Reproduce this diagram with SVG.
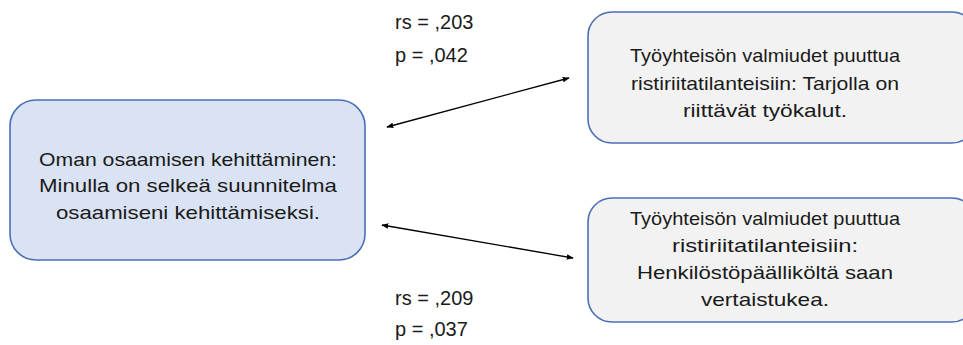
<svg xmlns="http://www.w3.org/2000/svg" width="963" height="345" viewBox="0 0 963 345">
  <style>
    .box { stroke: #4a6fb5; stroke-width: 1.6; }
    .blue { fill: #dae3f3; }
    .grey { fill: #f2f2f2; }
    text { font-family: "Liberation Sans", Arial, sans-serif; fill: #1a1a1a; }
    .lbl { font-size: 18.5px; text-anchor: middle; }
    .stat { font-size: 20px; }
    .conn { stroke: #000; stroke-width: 1.3; fill: none; marker-start: url(#ah); marker-end: url(#ah); }
  </style>
  <defs>
    <marker id="ah" viewBox="0 0 10 10" refX="9" refY="5" markerWidth="7" markerHeight="7" orient="auto-start-reverse" markerUnits="userSpaceOnUse">
      <path d="M0,1 L10,5 L0,9 Z" fill="#000"/>
    </marker>
  </defs>

  <rect width="963" height="345" fill="#fff"/>

  <g id="node-oma">
    <rect class="box blue" x="10" y="100" width="355" height="160" rx="26"/>
    <text class="lbl" x="188" y="166" textLength="298" lengthAdjust="spacingAndGlyphs">Oman osaamisen kehittäminen:</text>
    <text class="lbl" x="188" y="192" textLength="298" lengthAdjust="spacingAndGlyphs">Minulla on selkeä suunnitelma</text>
    <text class="lbl" x="188" y="219" textLength="264" lengthAdjust="spacingAndGlyphs">osaamiseni kehittämiseksi.</text>
  </g>

  <g id="node-tyokalut">
    <rect class="box grey" x="588" y="12" width="388" height="131" rx="24"/>
    <text class="lbl" x="765" y="62" textLength="270" lengthAdjust="spacingAndGlyphs">Työyhteisön valmiudet puuttua</text>
    <text class="lbl" x="765" y="90" textLength="268" lengthAdjust="spacingAndGlyphs">ristiriitatilanteisiin: Tarjolla on</text>
    <text class="lbl" x="765" y="117" textLength="164" lengthAdjust="spacingAndGlyphs">riittävät työkalut.</text>
  </g>

  <g id="node-vertaistuki">
    <rect class="box grey" x="588" y="198" width="388" height="124" rx="24"/>
    <text class="lbl" x="765" y="225" textLength="270" lengthAdjust="spacingAndGlyphs">Työyhteisön valmiudet puuttua</text>
    <text class="lbl" x="765" y="252" textLength="186" lengthAdjust="spacingAndGlyphs">ristiriitatilanteisiin:</text>
    <text class="lbl" x="765" y="279" textLength="256" lengthAdjust="spacingAndGlyphs">Henkilöstöpäälliköltä saan</text>
    <text class="lbl" x="765" y="306" textLength="128" lengthAdjust="spacingAndGlyphs">vertaistukea.</text>
  </g>

  <g id="connectors">
    <line class="conn" x1="387" y1="127" x2="569" y2="78"/>
    <line class="conn" x1="382" y1="225" x2="573" y2="258"/>
  </g>

  <g id="stats">
    <text class="stat" x="395" y="29">rs = ,203</text>
    <text class="stat" x="395" y="62">p = ,042</text>
    <text class="stat" x="395" y="305">rs = ,209</text>
    <text class="stat" x="395" y="336">p = ,037</text>
  </g>
</svg>
